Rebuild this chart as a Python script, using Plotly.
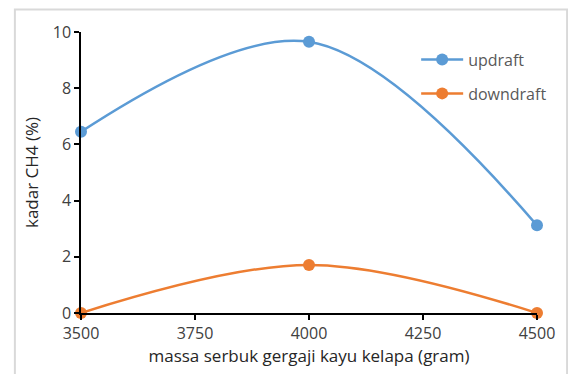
import plotly.graph_objects as go

massa = [3500, 4000, 4500]
updraft = [6.45, 9.65, 3.12]
downdraft = [0.0, 1.71, 0.0]
x_ticks = [3500, 3750, 4000, 4250, 4500]
y_ticks = [0, 2, 4, 6, 8, 10]

blue = "#5B9BD5"
orange = "#ED7D31"
font_fam = "Open Sans, Liberation Sans, sans-serif"

fig = go.Figure()
fig.add_trace(go.Scatter(x=massa, y=updraft, name="updraft", mode="lines+markers",
                         legendgroup="a",
                         line=dict(color=blue, width=2.5, shape="spline", smoothing=1.0),
                         marker=dict(size=12, color=blue), cliponaxis=False))
fig.add_trace(go.Scatter(x=massa, y=downdraft, name="downdraft", mode="lines+markers",
                         legendgroup="b",
                         line=dict(color=orange, width=2.5, shape="spline", smoothing=1.0),
                         marker=dict(size=12, color=orange), cliponaxis=False))

fig.update_layout(
    width=568, height=366,
    margin=dict(l=73, r=39, t=24, b=61),
    paper_bgcolor="white", plot_bgcolor="white",
    font=dict(family=font_fam, size=16, color="#404040"),
    showlegend=True,
    legend=dict(x=0.735, y=0.962, xanchor="left", yanchor="top",
                font=dict(size=16, color="#595959"), itemwidth=42,
                bgcolor="rgba(0,0,0,0)", tracegroupgap=10),
    xaxis=dict(range=[3500, 4500], tickvals=x_ticks, showgrid=False, zeroline=False,
               showline=True, linecolor="black", linewidth=1.5,
               ticks="outside", ticklen=5, tickcolor="black", tickwidth=1.5,
               title=dict(text="massa serbuk gergaji kayu kelapa (gram)", standoff=4,
                          font=dict(size=17, color="#262626")),
               tickfont=dict(size=16, color="#404040")),
    yaxis=dict(range=[0, 10], tickvals=y_ticks, showgrid=False, zeroline=False,
               showline=True, linecolor="black", linewidth=1.5,
               ticks="outside", ticklen=5, tickcolor="black", tickwidth=1.5,
               title=dict(text="kadar CH4 (%)", standoff=10,
                          font=dict(size=17, color="#262626")),
               tickfont=dict(size=16, color="#404040")),
    shapes=[dict(type="rect", xref="paper", yref="paper",
                 x0=-0.145, x1=1.066, y0=-0.3, y1=1.08,
                 line=dict(color="#D9D9D9", width=2), fillcolor="rgba(0,0,0,0)",
                 layer="below")],
)

fig.write_html("out.html")
